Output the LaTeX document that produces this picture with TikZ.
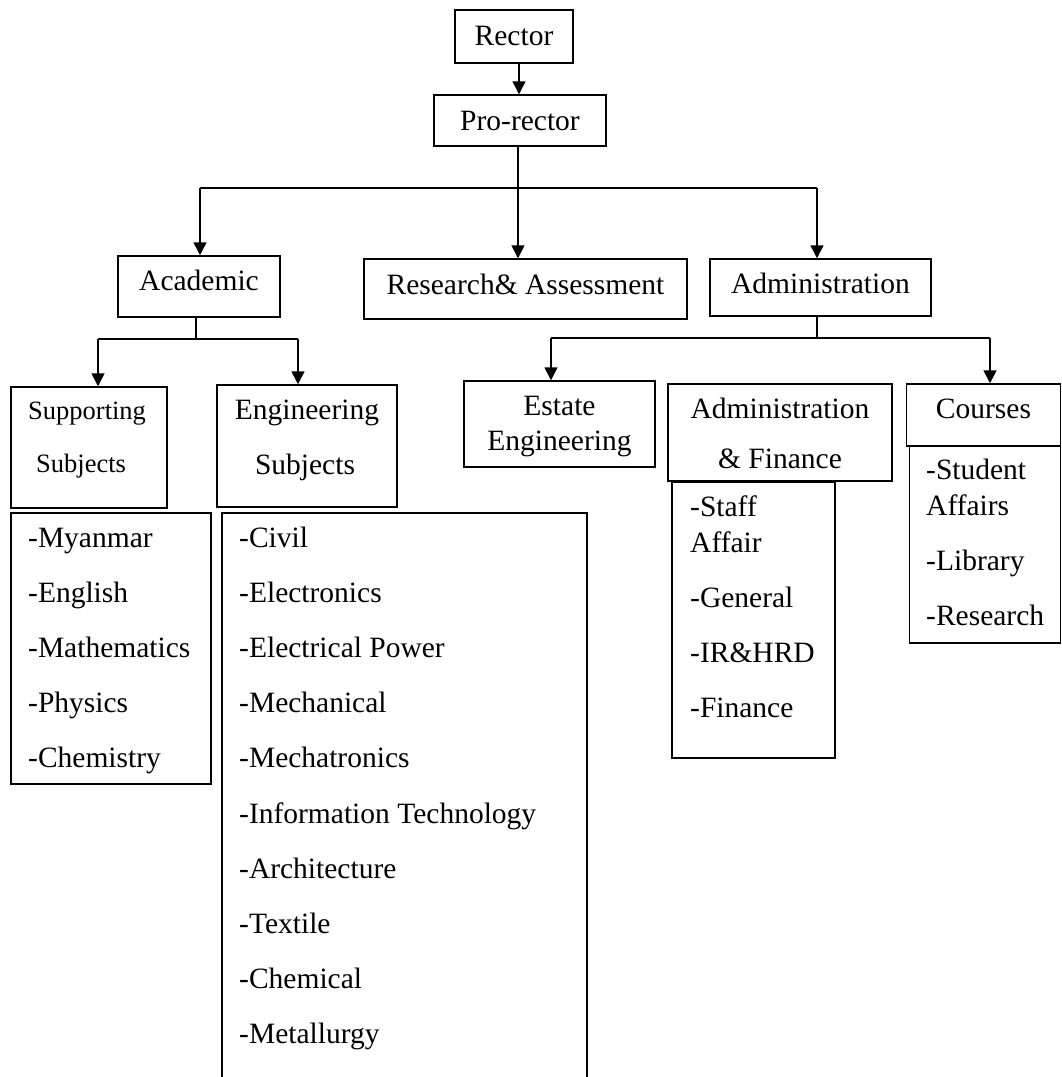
\documentclass[tikz,border=0pt]{standalone}
\usepackage{fontspec}
\setmainfont{Liberation Serif}
\usetikzlibrary{arrows.meta}
\begin{document}
\begin{tikzpicture}[x=1pt,y=-1pt,
  box/.style={draw=black, line width=1.5pt, inner sep=0pt, rectangle},
  txt/.style={inner sep=0pt, anchor=base, font=\fontsize{29.5}{35}\selectfont},
  txtl/.style={inner sep=0pt, anchor=base west, font=\fontsize{29.5}{35}\selectfont},
  txts/.style={inner sep=0pt, anchor=base west, font=\fontsize{26.5}{32}\selectfont},
  conn/.style={draw=black, line width=1.5pt},
  arr/.style={conn, -{Triangle[length=13pt,width=13pt]}}
]
\useasboundingbox (0,0) rectangle (1062,1077);
\clip (0,0) rectangle (1062,1077);
\fill[white] (0,0) rectangle (1062,1077);

% boxes
\node[box, minimum width=118pt, minimum height=53pt] (rector) at (514,36.5) {};
\node[box, minimum width=172pt, minimum height=51pt] (pro) at (520,120.5) {};
\node[box, minimum width=162pt, minimum height=61pt] (acad) at (199,286.5) {};
\node[box, minimum width=323pt, minimum height=60pt] (res) at (525.5,289) {};
\node[box, minimum width=221pt, minimum height=57pt] (adm) at (820.5,287.5) {};
\node[box, minimum width=156pt, minimum height=121pt] (sup) at (89,447.5) {};
\node[box, minimum width=180pt, minimum height=122pt] (eng) at (307,446) {};
\node[box, minimum width=200pt, minimum height=271pt] (supl) at (111,648.5) {};
\node[box, minimum width=365pt, minimum height=587pt] (engl) at (404.5,806.5) {};
\node[box, minimum width=191pt, minimum height=86pt] (est) at (559.5,424) {};
\node[box, minimum width=224pt, minimum height=97pt] (af) at (780,432.5) {};
\node[box, minimum width=154pt, minimum height=62pt] (crs) at (983.5,415) {};
\node[box, minimum width=163pt, minimum height=276pt] (afl) at (753.5,620) {};
\node[box, minimum width=151pt, minimum height=197pt] (crsl) at (985,544.5) {};

% header texts
\node[txt] (tRector) at (514,45) {Rector};
\node[txt] (tPro) at (520,130) {Pro-rector};
\node[txt] (tAcad) at (199,290) {Academic};
\node[txt] (tRes) at (525.5,294) {Research\& Assessment};
\node[txt] (tAdm) at (820.5,293) {Administration};
\node[txts] (tSup1) at (28,419) {Supporting};
\node[txts] (tSup2) at (36,472) {Subjects};
\node[txt] (tEng1) at (307,419) {Engineering};
\node[txt] (tEng2) at (305,474) {Subjects};
\node[txt] (tEst1) at (559.5,415) {Estate};
\node[txt] (tEst2) at (559.5,450) {Engineering};
\node[txt] (tAf1) at (780,418) {Administration};
\node[txt] (tAf2) at (780,468) {\& Finance};
\node[txt] (tCrs) at (983.5,418) {Courses};

% supporting list
\node[txtl] (s1) at (28,547) {-Myanmar};
\node[txtl] (s2) at (28,602) {-English};
\node[txtl] (s3) at (28,657) {-Mathematics};
\node[txtl] (s4) at (28,712) {-Physics};
\node[txtl] (s5) at (28,767) {-Chemistry};

% engineering list
\node[txtl] (e1) at (239,547) {-Civil};
\node[txtl] (e2) at (239,602) {-Electronics};
\node[txtl] (e3) at (239,657) {-Electrical Power};
\node[txtl] (e4) at (239,712) {-Mechanical};
\node[txtl] (e5) at (239,767) {-Mechatronics};
\node[txtl] (e6) at (239,823) {-Information Technology};
\node[txtl] (e7) at (239,878) {-Architecture};
\node[txtl] (e8) at (239,933) {-Textile};
\node[txtl] (e9) at (239,988) {-Chemical};
\node[txtl] (e10) at (239,1043) {-Metallurgy};

% admin & finance list
\node[txtl] (a1) at (690,516) {-Staff};
\node[txtl] (a1b) at (690,552) {Affair};
\node[txtl] (a2) at (690,607) {-General};
\node[txtl] (a3) at (690,662) {-IR\&HRD};
\node[txtl] (a4) at (690,717) {-Finance};

% courses list
\node[txtl] (c1) at (926,479) {-Student};
\node[txtl] (c1b) at (926,515) {Affairs};
\node[txtl] (c2) at (926,570) {-Library};
\node[txtl] (c3) at (926,625) {-Research};

% connectors
\draw[arr] ([xshift=5pt]rector.south) -- ([xshift=5pt]rector.south |- pro.north);
\draw[arr] ([xshift=-2pt]pro.south) -- ([xshift=-2pt]pro.south |- res.north);

\coordinate (busL) at (200,188);
\coordinate (busR) at (817,188);
\draw[conn] (busL) -- (busR);
\draw[arr] (busL) -- (busL |- acad.north);
\draw[arr] (busR) -- (busR |- adm.north);

\coordinate (acJ) at (196,339);
\coordinate (acL) at (98,339);
\coordinate (acR) at (298,339);
\draw[conn] (acJ |- acad.south) -- (acJ);
\draw[conn] (acL) -- (acR);
\draw[arr] (acL) -- (acL |- sup.north);
\draw[arr] (acR) -- (acR |- eng.north);

\coordinate (adJ) at (817,338);
\coordinate (adL) at (551,338);
\coordinate (adR) at (990,338);
\draw[conn] (adJ |- adm.south) -- (adJ);
\draw[conn] (adL) -- (adR);
\draw[arr] (adL) -- (adL |- est.north);
\draw[arr] (adR) -- (adR |- crs.north);
\end{tikzpicture}
\end{document}
